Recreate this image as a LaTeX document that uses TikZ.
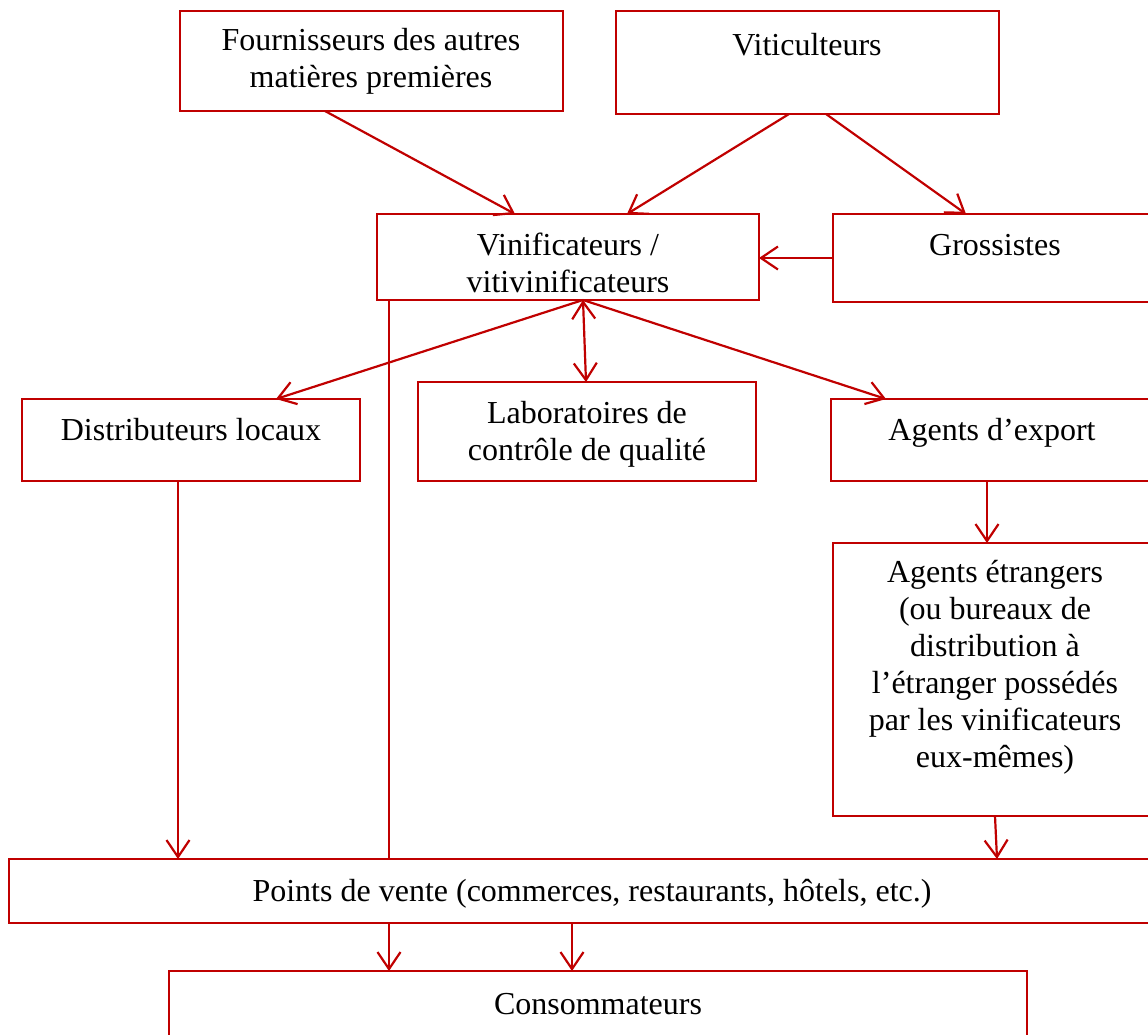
\documentclass[tikz,border=0pt]{standalone}
\usepackage{fontspec}
\setmainfont{Liberation Serif}
\usetikzlibrary{arrows.meta}
\definecolor{dred}{HTML}{C00000}
\tikzset{
  box/.style={draw=dred, line width=1.6pt, rectangle, inner sep=0pt, outer sep=0pt, anchor=north west},
  lbl/.style={align=center, font=\fontsize{32}{37}\selectfont, text=black, inner sep=0pt, anchor=base},
  tip/.tip={Straight Barb[length=17pt, width=23pt, line width=2.2pt]},
  arr/.style={draw=dred, line width=2.2pt, -tip},
  darr/.style={draw=dred, line width=2.2pt, tip-tip},
  ln/.style={draw=dred, line width=2.2pt}
}
\begin{document}
\begin{tikzpicture}[x=1pt, y=-1pt]
\useasboundingbox (0,0) rectangle (1148,1034);
\clip (0,0) rectangle (1148,1034);
% boxes
\node[box, minimum width=383pt, minimum height=100pt] (fou) at (180,11) {};
\node[box, minimum width=383pt, minimum height=103pt] (vit) at (616,11) {};
\node[box, minimum width=382pt, minimum height=86pt] (vin) at (377,214) {};
\node[box, minimum width=330pt, minimum height=88pt] (gro) at (833,214) {};
\node[box, minimum width=338pt, minimum height=82pt] (dis) at (22,399) {};
\node[box, minimum width=338pt, minimum height=99pt] (lab) at (418,382) {};
\node[box, minimum width=330pt, minimum height=82pt] (exp) at (831,399) {};
\node[box, minimum width=330pt, minimum height=273pt] (etr) at (833,543) {};
\node[box, minimum width=1180pt, minimum height=64pt] (pts) at (9,859) {};
\node[box, minimum width=858pt, minimum height=90pt] (con) at (169,971) {};
% labels (anchor = baseline of last line)
\node[lbl] (tfou) at (371,87) {Fournisseurs des autres\\matières premières};
\node[lbl] (tvit) at (807,55) {Viticulteurs};
\node[lbl] (tvin) at (568,292) {Vinificateurs /\\vitivinificateurs};
\node[lbl] (tgro) at (995,255) {Grossistes};
\node[lbl] (tdis) at (191,440) {Distributeurs locaux};
\node[lbl] (tlab) at (587,460) {Laboratoires de\\contrôle de qualité};
\node[lbl] (texp) at (992,440) {Agents d’export};
\node[lbl] (tetr) at (995,767) {Agents étrangers\\(ou bureaux de\\distribution à\\l’étranger possédés\\par les vinificateurs\\eux-mêmes)};
\node[lbl] (tpts) at (592,901) {Points de vente (commerces, restaurants, hôtels, etc.)};
\node[lbl] (tcon) at (598,1014) {Consommateurs};
% connectors
\draw[arr] (325,0 |- fou.south) -- (515,0 |- vin.north);
\draw[arr] (789,0 |- vit.south) -- (627,0 |- vin.north);
\draw[arr] (826,0 |- vit.south) -- (966,0 |- gro.north);
\draw[arr] (gro.west |- 0,258) -- (vin.east |- 0,258);
\coordinate (vb) at (583,0 |- vin.south);
\draw[arr] (vb) -- (276,0 |- dis.north);
\draw[darr] (vb) -- (586,0 |- lab.north);
\draw[arr] (vb) -- (886,0 |- exp.north);
\draw[ln] (389,0 |- vin.south) -- (389,0 |- pts.north);
\draw[arr] (178,0 |- dis.south) -- (178,0 |- pts.north);
\draw[arr] (987,0 |- exp.south) -- (987,0 |- etr.north);
\draw[arr] (995,0 |- etr.south) -- (997,0 |- pts.north);
\draw[arr] (389,0 |- pts.south) -- (389,0 |- con.north);
\draw[arr] (572,0 |- pts.south) -- (572,0 |- con.north);
\end{tikzpicture}
\end{document}
